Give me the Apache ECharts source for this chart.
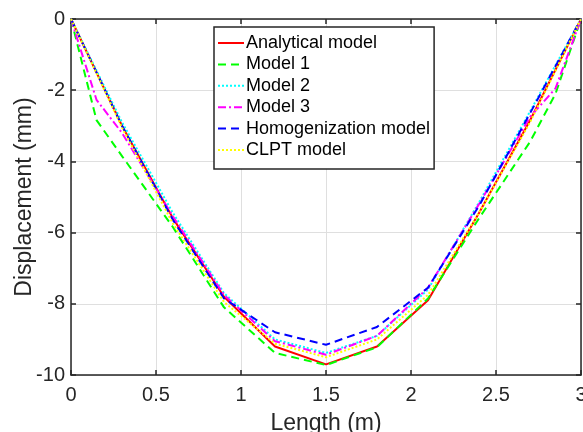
<!DOCTYPE html>
<html>
<head>
<meta charset="utf-8">
<script src="https://cdn.jsdelivr.net/npm/echarts@6/dist/echarts.min.js"></script>
<style>
html,body{margin:0;padding:0;background:#fff;}
#c{width:583px;height:432px;}
</style>
</head>
<body>
<div id="c"></div>
<script>
// Data
const seriesNames = ['Analytical model','Model 1','Model 2','Model 3','Homogenization model','CLPT model'];
const xNodes = [0, 0.3, 0.6, 0.9, 1.2, 1.5, 1.8, 2.1, 2.4, 2.7, 3];
const xNodesFine = [0, 0.15, 0.3, 0.6, 0.9, 1.2, 1.5, 1.8, 2.1, 2.4, 2.7, 2.85, 3];
const analytical = [0, -3.0, -5.6, -7.8, -9.2, -9.7, -9.2, -7.9, -5.45, -2.85, 0];
const model1 = [0, -2.84, -3.85, -5.85, -8.1, -9.38, -9.72, -9.22, -7.85, -5.6, -3.45, -2.1, 0];
const model2 = [0, -2.9, -5.45, -7.7, -9.0, -9.38, -8.9, -7.6, -5.15, -2.6, 0];
const model3 = [0, -2.27, -3.2, -5.55, -7.75, -9.05, -9.43, -8.9, -7.55, -5.2, -2.75, -1.95, 0];
const homog = [0, -3.0, -5.65, -7.85, -8.8, -9.15, -8.65, -7.55, -5.25, -2.65, 0];
const clpt = [0, -3.05, -5.75, -7.95, -9.12, -9.5, -9.0, -7.75, -5.45, -2.9, 0];
const xTicks = {min: 0, max: 3, interval: 0.5};
const yTicks = {min: -10, max: 0, interval: 2};

function pairs(xs, ys){ return xs.map((x,i)=>[x, ys[i]]); }

const font = 'Liberation Sans, Arial, Helvetica, sans-serif';
const axisColor = '#262626';

const chart = echarts.init(document.getElementById('c'), null, {renderer:'canvas'});

function mk(name, xs, ys, color, type, z){
  return {
    name: name, type: 'line', data: pairs(xs, ys),
    xAxisIndex: 0, yAxisIndex: 0,
    symbol: 'none', showSymbol: false, animation: false, z: z,
    lineStyle: {color: color, width: 2, type: type},
    itemStyle: {color: color}
  };
}

const option = {
  animation: false,
  backgroundColor: '#fff',
  grid: {left: 71, right: 2, top: 19, bottom: 57, show: false, containLabel: false, outerBoundsMode: 'none'},
  legend: {
    left: 214, top: 27, orient: 'vertical',
    data: seriesNames,
    borderColor: axisColor, borderWidth: 1.5, backgroundColor: '#fff',
    padding: [7, 4, 10, 3],
    itemWidth: 26, itemHeight: 18, itemGap: 3.4,
    itemStyle: {opacity: 0},
    textStyle: {fontFamily: font, fontSize: 18, color: '#000', lineHeight: 18, padding: [0,0,0,-3]}
  },
  xAxis: [{
    type: 'value', min: xTicks.min, max: xTicks.max, interval: xTicks.interval,
    name: 'Length (m)', nameLocation: 'middle', nameGap: 37, nameMoveOverlap: false,
    nameTextStyle: {fontFamily: font, fontSize: 23, color: '#262626'},
    axisLine: {show: true, onZero: false, lineStyle: {color: axisColor, width: 1.5}},
    axisTick: {show: true, inside: true, length: 5, lineStyle: {color: axisColor, width: 1.5}},
    axisLabel: {fontFamily: font, fontSize: 20, color: '#262626', margin: 10},
    splitLine: {show: true, lineStyle: {color: '#dfdfdf', width: 1}}
  },{
    type: 'value', position: 'top', min: xTicks.min, max: xTicks.max, interval: xTicks.interval,
    axisLine: {show: true, onZero: false, lineStyle: {color: axisColor, width: 1.5}},
    axisTick: {show: true, inside: true, length: 5, lineStyle: {color: axisColor, width: 1.5}},
    axisLabel: {show: false}, splitLine: {show: false}
  }],
  yAxis: [{
    type: 'value', min: yTicks.min, max: yTicks.max, interval: yTicks.interval,
    name: 'Displacement (mm)', nameLocation: 'middle', nameGap: 35, nameMoveOverlap: false,
    nameTextStyle: {fontFamily: font, fontSize: 23, color: '#262626'},
    axisLine: {show: true, onZero: false, lineStyle: {color: axisColor, width: 1.5}},
    axisTick: {show: true, inside: true, length: 5, lineStyle: {color: axisColor, width: 1.5}},
    axisLabel: {fontFamily: font, fontSize: 20, color: '#262626', margin: 6},
    splitLine: {show: true, lineStyle: {color: '#dfdfdf', width: 1}}
  },{
    type: 'value', position: 'right', min: yTicks.min, max: yTicks.max, interval: yTicks.interval,
    axisLine: {show: true, onZero: false, lineStyle: {color: axisColor, width: 1.5}},
    axisTick: {show: true, inside: true, length: 5, lineStyle: {color: axisColor, width: 1.5}},
    axisLabel: {show: false}, splitLine: {show: false}
  }],
  series: [
    mk(seriesNames[0], xNodes, analytical, '#ff0000', 'solid', 2),
    mk(seriesNames[1], xNodesFine, model1, '#00ff00', [8,5], 3),
    mk(seriesNames[2], xNodes, model2, '#00ffff', [2,2], 4),
    mk(seriesNames[3], xNodesFine, model3, '#ff00ff', [8,3,2,3], 5),
    mk(seriesNames[4], xNodes, homog, '#0000ff', [8,5], 6),
    mk(seriesNames[5], xNodes, clpt, '#ffff00', [2,2], 7)
  ]
};
chart.setOption(option);
</script>
</body>
</html>
